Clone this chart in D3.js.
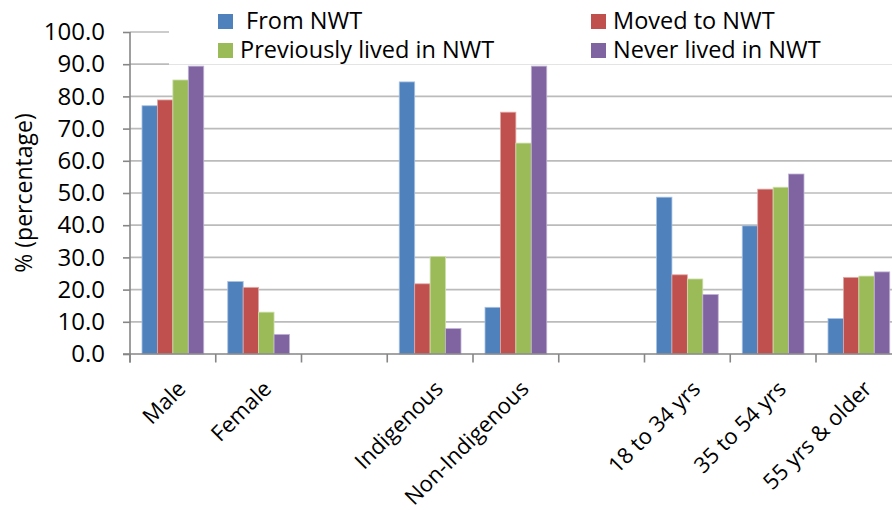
<!DOCTYPE html>
<html>
<head>
<meta charset="utf-8">
<script src="https://cdn.jsdelivr.net/npm/d3@7"></script>
<style>
  html, body { margin: 0; padding: 0; background: #fff; }
  svg { display: block; font-family: "Open Sans", "Noto Sans", sans-serif; }
</style>
</head>
<body>
<svg id="chart" width="892" height="510"></svg>
<script>
// Categories along the x axis; empty strings are spacer slots between groups
const categories = ["Male", "Female", "", "Indigenous", "Non-Indigenous", "", "18 to 34 yrs", "35 to 54 yrs", "55 yrs & older"];
const seriesNames = [" From NWT", "Moved to NWT", "Previously lived in NWT", "Never lived in NWT"];
const seriesColors = ["#4F81BD", "#C0504D", "#9BBB59", "#8064A2"];
const seriesStrokes = ["#A9C1E0", "#E2A9A7", "#CFDFB0", "#C0B3D3"];

// Percent values per series, one entry per category (null = spacer)
const fromNWT        = [77.1, 22.5, null, 84.5, 14.5, null, 48.7, 39.8, 11.0];
const movedToNWT     = [78.9, 20.7, null, 21.8, 75.1, null, 24.6, 51.2, 23.8];
const previouslyNWT  = [85.1, 13.0, null, 30.3, 65.5, null, 23.3, 51.8, 24.2];
const neverNWT       = [89.4,  6.1, null,  7.9, 89.4, null, 18.5, 55.9, 25.5];

const yTicks = [0, 10, 20, 30, 40, 50, 60, 70, 80, 90, 100];
const yTitle = "% (percentage)";

const seriesValues = [fromNWT, movedToNWT, previouslyNWT, neverNWT];

const svg = d3.select("#chart");
const plotLeft = 130, plotRight = 901.75, plotTop = 32, plotBottom = 354;

const x = d3.scaleBand()
  .domain(d3.range(categories.length))
  .range([plotLeft, plotRight])
  .paddingInner(0.28)
  .paddingOuter(0.14);

const xs = d3.scaleBand()
  .domain(d3.range(seriesNames.length))
  .range([0, x.bandwidth()]);

const y = d3.scaleLinear().domain([0, 100]).range([plotBottom, plotTop]);
const step = x.step();

// Horizontal gridlines
svg.append("g")
  .selectAll("line")
  .data(yTicks.filter(d => d > 0))
  .join("line")
  .attr("x1", plotLeft).attr("x2", 892)
  .attr("y1", d => y(d)).attr("y2", d => y(d))
  .attr("stroke", "#BBBBBB")
  .attr("stroke-width", 1.7);

// Bars
const rows = [];
categories.forEach((c, i) => {
  seriesValues.forEach((vals, s) => {
    if (vals[i] != null) rows.push({ i, s, v: vals[i] });
  });
});

svg.append("g")
  .selectAll("rect")
  .data(rows)
  .join("rect")
  .attr("x", d => x(d.i) + xs(d.s))
  .attr("y", d => y(d.v))
  .attr("width", xs.bandwidth())
  .attr("height", d => y(0) - y(d.v))
  .attr("fill", d => seriesColors[d.s])
  .attr("stroke", d => seriesStrokes[d.s])
  .attr("stroke-width", 0.8);

// Legend background covers the top of the plot area
svg.append("rect")
  .attr("x", 169).attr("y", 0)
  .attr("width", 892 - 169).attr("height", 64.6)
  .attr("fill", "#fff");

// Y axis
const yAxis = svg.append("g").attr("transform", `translate(${plotLeft},0)`)
  .call(d3.axisLeft(y).tickValues(yTicks).tickSize(7).tickFormat(d3.format(".1f")).tickPadding(18));
yAxis.select(".domain").attr("stroke", "#868686").attr("stroke-width", 1.6)
  .attr("d", `M0,${plotTop}V${plotBottom + 8.5}`);
yAxis.selectAll(".tick line").attr("stroke", "#868686").attr("stroke-width", 1.6);
yAxis.selectAll(".tick text")
  .attr("font-size", 24)
  .attr("font-family", "'Open Sans', sans-serif")
  .attr("fill", "#000");

// X axis line and category boundary ticks
const xAxis = svg.append("g");
xAxis.append("line")
  .attr("x1", plotLeft - 7).attr("x2", 892)
  .attr("y1", plotBottom).attr("y2", plotBottom)
  .attr("stroke", "#868686").attr("stroke-width", 1.6);
xAxis.selectAll("line.bound")
  .data(d3.range(categories.length))
  .join("line")
  .attr("class", "bound")
  .attr("x1", i => x(i) - step * 0.14)
  .attr("x2", i => x(i) - step * 0.14)
  .attr("y1", plotBottom).attr("y2", plotBottom + 8.5)
  .attr("stroke", "#868686").attr("stroke-width", 1.6);

// Rotated category labels
xAxis.selectAll("text")
  .data(categories.map((c, i) => ({ c, i })).filter(d => d.c))
  .join("text")
  .attr("transform", d => `translate(${x(d.i) + x.bandwidth() / 2 + 3},${379}) rotate(-45)`)
  .attr("text-anchor", "end")
  .attr("dy", "0.72em")
  .attr("font-size", 22)
  .attr("fill", "#000")
  .text(d => d.c);

// Y axis title
svg.append("text")
  .attr("transform", `translate(24,193) rotate(-90)`)
  .attr("text-anchor", "middle")
  .attr("dy", "0.35em")
  .attr("font-size", 23)
  .attr("fill", "#000")
  .text(yTitle);

// Legend: two columns, two rows
const legendCols = [218, 591];
const legendRows = [14, 43];
const legend = svg.append("g")
  .selectAll("g")
  .data(seriesNames.map((n, s) => ({ n, s })))
  .join("g")
  .attr("transform", d => `translate(${legendCols[d.s % 2]},${legendRows[Math.floor(d.s / 2)]})`);
legend.append("rect")
  .attr("width", 15).attr("height", 15)
  .attr("fill", d => seriesColors[d.s]);
legend.append("text")
  .attr("x", 22).attr("y", 14.5)
  .attr("font-size", 23.5)
  .attr("fill", "#000")
  .style("white-space", "pre")
  .text(d => d.n);
</script>
</body>
</html>
